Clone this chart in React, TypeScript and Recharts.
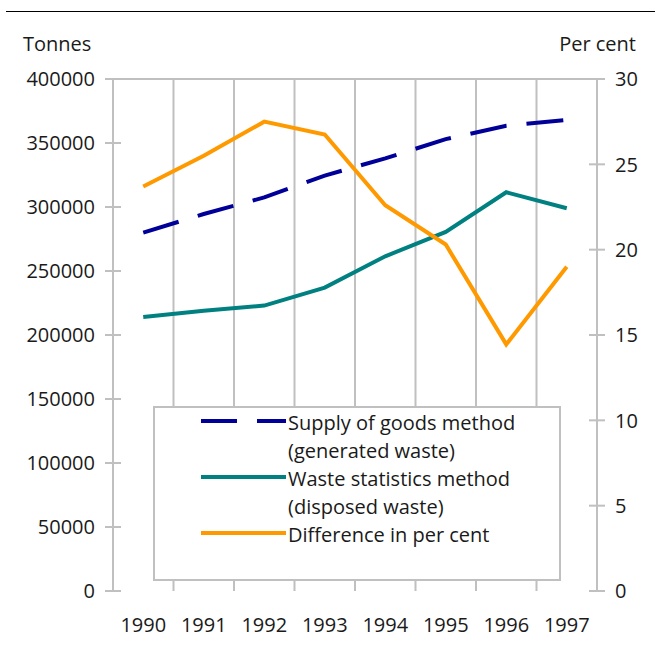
import React from 'react';
import { LineChart, Line, XAxis, YAxis, CartesianGrid, Legend, ReferenceLine } from 'recharts';

const years = ['1990', '1991', '1992', '1993', '1994', '1995', '1996', '1997'];
const supplyOfGoods = [280000, 294500, 307500, 324500, 338000, 353000, 363500, 368000];
const wasteStatistics = [214000, 219000, 223000, 237000, 261500, 280500, 311500, 299000];
const differencePct = [23.7, 25.5, 27.5, 26.75, 22.6, 20.3, 14.45, 19.0];

const leftTicks = [0, 50000, 100000, 150000, 200000, 250000, 300000, 350000, 400000];
const rightTicks = [0, 5, 10, 15, 20, 25, 30];
const boundaryTicks = [0, 1, 2, 3, 4, 5, 6, 7, 8];
const centerTicks = [0.5, 1.5, 2.5, 3.5, 4.5, 5.5, 6.5, 7.5];

const legendOrder = ['supply', 'waste', 'diff'];
const legendLabels: Record<string, string[]> = {
  supply: ['Supply of goods method', '(generated waste)'],
  waste: ['Waste statistics method', '(disposed waste)'],
  diff: ['Difference in per cent'],
};

const data = years.map((year, i) => ({
  x: i + 0.5,
  year,
  supply: supplyOfGoods[i],
  waste: wasteStatistics[i],
  diff: differencePct[i],
}));

const FONT = '"Open Sans", "Noto Sans", sans-serif';
const TEXT = '#1a1a1a';
const GRID = '#c0c0c0';
const NAVY = '#000099';
const TEAL = '#008080';
const ORANGE = '#FF9900';
const TICK = 8;
const MARGIN = 10;

const EmptyTick = () => <g />;

const LeftTick = (props: any) => {
  const { x, y, payload } = props;
  return (
    <g>
      <line x1={x + MARGIN + TICK} x2={x + MARGIN + 2 * TICK} y1={y} y2={y} stroke={GRID} strokeWidth={2} />
      <text x={x} y={y} dy="0.36em" textAnchor="end" fill={TEXT} fontSize={20} fontFamily={FONT}>
        {payload.value}
      </text>
    </g>
  );
};

const RightTick = (props: any) => {
  const { x, y, payload } = props;
  return (
    <g>
      <line x1={x - MARGIN - 2 * TICK} x2={x - MARGIN - TICK} y1={y} y2={y} stroke={GRID} strokeWidth={2} />
      <text x={x} y={y} dy="0.36em" textAnchor="start" fill={TEXT} fontSize={20} fontFamily={FONT}>
        {payload.value}
      </text>
    </g>
  );
};

const renderLegend = (props: any) => {
  const payload: any[] = props.payload || [];
  const tops = [1, 57, 113];
  const entries = legendOrder
    .map((k) => payload.find((p: any) => p.dataKey === k))
    .filter(Boolean);
  return (
    <div
      style={{
        position: 'relative',
        width: 408,
        height: 175,
        border: `2px solid ${GRID}`,
        boxSizing: 'border-box',
        background: '#fff',
        fontFamily: FONT,
        fontSize: 20,
        color: TEXT,
        lineHeight: '28px',
      }}
    >
      {entries.map((entry: any, i: number) => {
        const key = entry.dataKey as string;
        const dashed = key === 'supply';
        return (
          <div key={key} style={{ position: 'absolute', left: 0, top: tops[i], width: '100%' }}>
            <svg width={85} height={8} style={{ position: 'absolute', left: 46, top: 8 }}>
              <line
                x1={0}
                x2={85}
                y1={4}
                y2={4}
                stroke={entry.color}
                strokeWidth={4}
                strokeDasharray={dashed ? '36 20' : undefined}
              />
            </svg>
            <div style={{ position: 'absolute', left: 133, top: 0, whiteSpace: 'nowrap', textAlign: 'left' }}>
              {(legendLabels[key] || [entry.value]).map((t) => (
                <div key={t}>{t}</div>
              ))}
            </div>
          </div>
        );
      })}
    </div>
  );
};

export default function App() {
  return (
    <div style={{ position: 'absolute', left: 0, top: 0, width: 655, height: 651, background: '#fff' }}>
      <div style={{ position: 'absolute', left: 6, right: 0, top: 11, height: 1, background: '#000' }} />
      <div
        style={{
          position: 'absolute',
          left: 23,
          top: 30,
          fontFamily: FONT,
          fontSize: 20,
          lineHeight: '28px',
          color: TEXT,
        }}
      >
        Tonnes
      </div>
      <div
        style={{
          position: 'absolute',
          right: 19,
          top: 30,
          fontFamily: FONT,
          fontSize: 20,
          lineHeight: '28px',
          color: TEXT,
        }}
      >
        Per cent
      </div>
      <div style={{ position: 'absolute', left: 0, top: 0 }}>
        <LineChart width={655} height={651} data={data} margin={{ top: 79, right: 8, bottom: 10, left: 13 }}>
          <CartesianGrid
            xAxisId="grid"
            yAxisId="left"
            horizontal={false}
            vertical={true}
            verticalPoints={undefined}
            stroke={GRID}
            strokeWidth={2}
          />
          <ReferenceLine xAxisId="grid" yAxisId="left" y={400000} stroke={GRID} strokeWidth={2} />
          <XAxis
            xAxisId="grid"
            dataKey="x"
            type="number"
            domain={[0, 8]}
            ticks={boundaryTicks}
            interval={0}
            tick={<EmptyTick />}
            tickSize={TICK}
            height={0}
            axisLine={{ stroke: GRID, strokeWidth: 2 }}
            tickLine={{ stroke: GRID, strokeWidth: 2 }}
          />
          <XAxis
            xAxisId="labels"
            dataKey="x"
            type="number"
            domain={[0, 8]}
            ticks={centerTicks}
            tickFormatter={(v: number) => years[Math.floor(v)]}
            axisLine={false}
            tickLine={false}
            tickSize={0}
            tickMargin={27}
            height={50}
            interval={0}
            tick={{ fill: TEXT, fontSize: 20, fontFamily: FONT }}
          />
          <YAxis
            yAxisId="left"
            orientation="left"
            domain={[0, 400000]}
            ticks={leftTicks}
            width={100}
            tickSize={TICK}
            tickMargin={MARGIN}
            interval={0}
            axisLine={{ stroke: GRID, strokeWidth: 2 }}
            tickLine={{ stroke: GRID, strokeWidth: 2 }}
            tick={<LeftTick />}
          />
          <YAxis
            yAxisId="right"
            orientation="right"
            domain={[0, 30]}
            ticks={rightTicks}
            width={50}
            tickSize={TICK}
            tickMargin={MARGIN}
            interval={0}
            axisLine={{ stroke: GRID, strokeWidth: 2 }}
            tickLine={{ stroke: GRID, strokeWidth: 2 }}
            tick={<RightTick />}
          />
          <Legend
            layout="horizontal"
            verticalAlign="middle"
            align="center"
            content={renderLegend}
            wrapperStyle={{ position: 'absolute', left: 153, top: 406, width: 408, height: 175 }}
          />
          <Line
            xAxisId="grid"
            yAxisId="left"
            dataKey="supply"
            name="Supply of goods method (generated waste)"
            stroke={NAVY}
            strokeWidth={4}
            strokeDasharray="37 20"
            dot={false}
            activeDot={false}
            isAnimationActive={false}
          />
          <Line
            xAxisId="grid"
            yAxisId="left"
            dataKey="waste"
            name="Waste statistics method (disposed waste)"
            stroke={TEAL}
            strokeWidth={4}
            dot={false}
            activeDot={false}
            isAnimationActive={false}
          />
          <Line
            xAxisId="grid"
            yAxisId="right"
            dataKey="diff"
            name="Difference in per cent"
            stroke={ORANGE}
            strokeWidth={4}
            dot={false}
            activeDot={false}
            isAnimationActive={false}
          />
        </LineChart>
      </div>
    </div>
  );
}
